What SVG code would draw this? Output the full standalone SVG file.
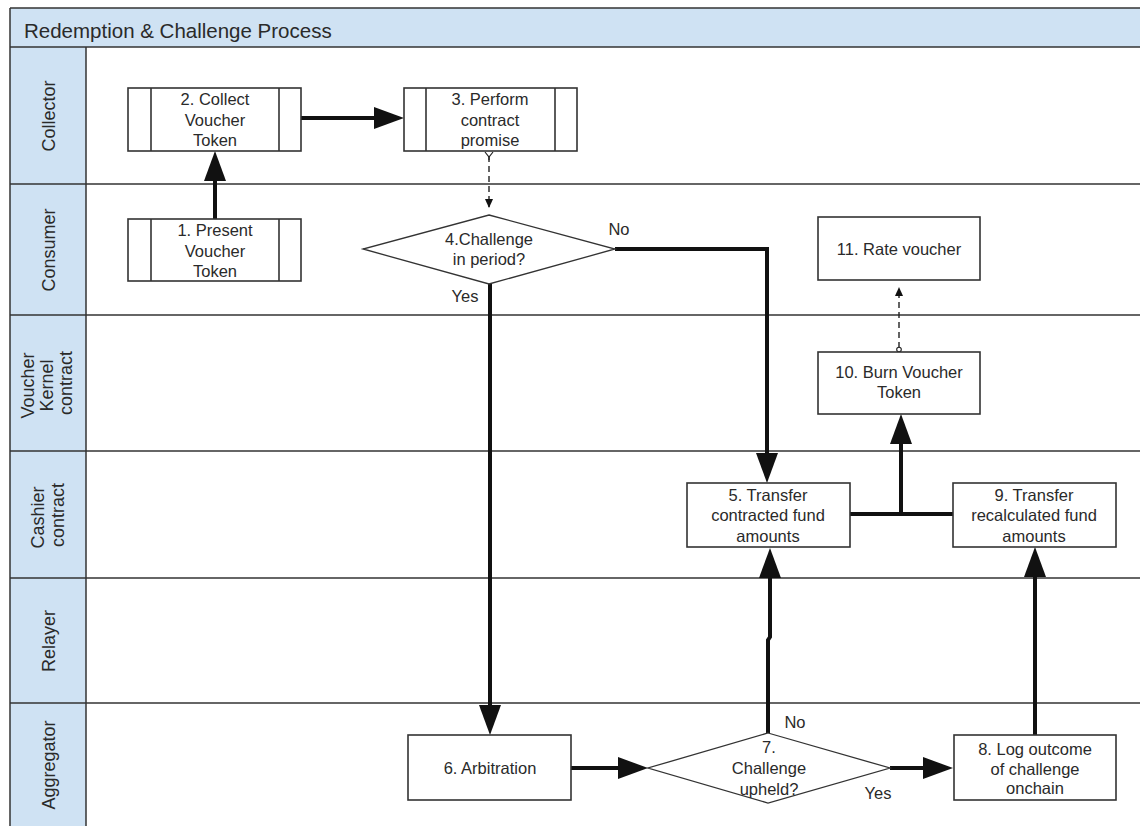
<svg xmlns="http://www.w3.org/2000/svg" width="1140" height="826" viewBox="0 0 1140 826">
  <style>
    .lane-head { fill: #cfe2f3; stroke: none; }
    .sep { stroke: #333; stroke-width: 1.5; fill: none; }
    .box { fill: #fff; stroke: #333; stroke-width: 1.6; }
    .dia { fill: #fff; stroke: #333; stroke-width: 1.3; }
    .txt { font-family: "Liberation Sans", Arial, sans-serif; font-size: 16.5px; fill: #2a2a2a; text-anchor: middle; }
    .lbl { font-family: "Liberation Sans", Arial, sans-serif; font-size: 18px; fill: #2a2a2a; text-anchor: middle; }
    .title { font-family: "Liberation Sans", Arial, sans-serif; font-size: 20.5px; fill: #2a2a2a; }
    .flow { stroke: #111; stroke-width: 4; fill: none; }
    .dash { stroke: #222; stroke-width: 1.4; fill: none; stroke-dasharray: 6 4; }
  </style>
  <defs>
    <marker id="big" markerUnits="userSpaceOnUse" markerWidth="30" markerHeight="22" refX="20" refY="11" orient="auto">
      <path d="M0,0 L30,11 L0,22 z" fill="#111"/>
    </marker>
    <marker id="small" markerUnits="userSpaceOnUse" markerWidth="9" markerHeight="8" refX="8" refY="4" orient="auto">
      <path d="M0,0 L9,4 L0,8 z" fill="#111"/>
    </marker>
  </defs>

  <rect x="0" y="0" width="1140" height="826" fill="#fff"/>

  <!-- pool header and lane heads -->
  <g id="pool">
    <rect class="lane-head" x="10" y="8" width="1130" height="39"/>
    <rect class="lane-head" x="10" y="47" width="76" height="779"/>
    <line class="sep" x1="10" y1="8" x2="1140" y2="8"/>
    <line class="sep" x1="10" y1="8" x2="10" y2="826"/>
    <line class="sep" x1="86" y1="47" x2="86" y2="826"/>
    <line class="sep" x1="10" y1="47" x2="1140" y2="47"/>
    <line class="sep" x1="10" y1="184" x2="1140" y2="184"/>
    <line class="sep" x1="10" y1="315" x2="1140" y2="315"/>
    <line class="sep" x1="10" y1="451" x2="1140" y2="451"/>
    <line class="sep" x1="10" y1="578" x2="1140" y2="578"/>
    <line class="sep" x1="10" y1="703" x2="1140" y2="703"/>
    <text class="title" x="24" y="38">Redemption &amp; Challenge Process</text>
  </g>

  <g id="lane-collector">
    <text class="lbl" transform="translate(48,116) rotate(-90)" y="6.5">Collector</text>
  </g>
  <g id="lane-consumer">
    <text class="lbl" transform="translate(48,250) rotate(-90)" y="6.5">Consumer</text>
  </g>
  <g id="lane-kernel">
    <text class="lbl" transform="translate(46,383) rotate(-90)">
      <tspan x="0" y="-12.5">Voucher</tspan>
      <tspan x="0" y="6.5">Kernel</tspan>
      <tspan x="0" y="25.5">contract</tspan>
    </text>
  </g>
  <g id="lane-cashier">
    <text class="lbl" transform="translate(47,515) rotate(-90)">
      <tspan x="0" y="-3.5">Cashier</tspan>
      <tspan x="0" y="16.5">contract</tspan>
    </text>
  </g>
  <g id="lane-relayer">
    <text class="lbl" transform="translate(48,641) rotate(-90)" y="6.5">Relayer</text>
  </g>
  <g id="lane-aggregator">
    <text class="lbl" transform="translate(48,765) rotate(-90)" y="6.5">Aggregator</text>
  </g>

  <!-- connectors -->
  <g id="connectors">
    <path class="flow" d="M215,219 V161" marker-end="url(#big)"/>
    <path class="flow" d="M301,118 H394" marker-end="url(#big)"/>
    <path class="dash" d="M489,156 V207" marker-end="url(#small)"/>
    <path d="M485,152 L489,157 L493,152 M489,157 V160" stroke="#222" stroke-width="1.2" fill="none"/>
    <path class="flow" d="M615,249 H767 V473" marker-end="url(#big)"/>
    <path class="flow" d="M490,284 V725" marker-end="url(#big)"/>
    <path class="flow" d="M571,768 H638" marker-end="url(#big)"/>
    <path class="flow" d="M890,768 H943" marker-end="url(#big)"/>
    <path class="flow" d="M768,733 V640 L770,637 V558" marker-end="url(#big)"/>
    <path class="flow" d="M1035,735 V557" marker-end="url(#big)"/>
    <path class="flow" d="M850,514 H953"/>
    <path class="flow" d="M901,514 V424" marker-end="url(#big)"/>
    <path class="dash" d="M899,348 V288" marker-end="url(#small)"/>
    <circle cx="899" cy="349.5" r="2.3" fill="#fff" stroke="#222" stroke-width="1.1"/>
    <text class="txt" x="619" y="235">No</text>
    <text class="txt" x="465" y="302">Yes</text>
    <text class="txt" x="795" y="728">No</text>
    <text class="txt" x="878" y="799">Yes</text>
  </g>

  <g id="n1">
    <rect class="box" x="128" y="219" width="173" height="62"/>
    <line class="box" x1="151" y1="219" x2="151" y2="281"/>
    <line class="box" x1="279" y1="219" x2="279" y2="281"/>
    <text class="txt"><tspan x="215" y="236">1. Present</tspan><tspan x="215" y="256.5">Voucher</tspan><tspan x="215" y="277">Token</tspan></text>
  </g>
  <g id="n2">
    <rect class="box" x="128" y="88" width="173" height="63"/>
    <line class="box" x1="151" y1="88" x2="151" y2="151"/>
    <line class="box" x1="279" y1="88" x2="279" y2="151"/>
    <text class="txt"><tspan x="215" y="105">2. Collect</tspan><tspan x="215" y="125.5">Voucher</tspan><tspan x="215" y="146">Token</tspan></text>
  </g>
  <g id="n3">
    <rect class="box" x="404" y="88" width="173" height="63"/>
    <line class="box" x1="426" y1="88" x2="426" y2="151"/>
    <line class="box" x1="555" y1="88" x2="555" y2="151"/>
    <text class="txt"><tspan x="490" y="105">3. Perform</tspan><tspan x="490" y="125.5">contract</tspan><tspan x="490" y="146">promise</tspan></text>
  </g>
  <g id="n4">
    <polygon class="dia" points="489,215 615,249 489,284 363,249"/>
    <text class="txt"><tspan x="489" y="245">4.Challenge</tspan><tspan x="489" y="265">in period?</tspan></text>
  </g>
  <g id="n5">
    <rect class="box" x="687" y="483" width="163" height="64"/>
    <text class="txt"><tspan x="768" y="501">5. Transfer</tspan><tspan x="768" y="521">contracted fund</tspan><tspan x="768" y="541.5">amounts</tspan></text>
  </g>
  <g id="n6">
    <rect class="box" x="408" y="735" width="163" height="65"/>
    <text class="txt" x="490" y="774">6. Arbitration</text>
  </g>
  <g id="n7">
    <polygon class="dia" points="768,733 890,768 768,803 648,768"/>
    <text class="txt"><tspan x="769" y="753">7.</tspan><tspan x="769" y="774">Challenge</tspan><tspan x="769" y="795">upheld?</tspan></text>
  </g>
  <g id="n8">
    <rect class="box" x="954" y="735" width="162" height="65"/>
    <text class="txt"><tspan x="1035" y="754.5">8. Log outcome</tspan><tspan x="1035" y="774.5">of challenge</tspan><tspan x="1035" y="794">onchain</tspan></text>
  </g>
  <g id="n9">
    <rect class="box" x="953" y="483" width="163" height="64"/>
    <text class="txt"><tspan x="1034" y="501">9. Transfer</tspan><tspan x="1034" y="521">recalculated fund</tspan><tspan x="1034" y="541.5">amounts</tspan></text>
  </g>
  <g id="n10">
    <rect class="box" x="818" y="352" width="162" height="62"/>
    <text class="txt"><tspan x="899" y="378">10. Burn Voucher</tspan><tspan x="899" y="398">Token</tspan></text>
  </g>
  <g id="n11">
    <rect class="box" x="818" y="217" width="162" height="63"/>
    <text class="txt" x="899" y="255">11. Rate voucher</text>
  </g>
</svg>
